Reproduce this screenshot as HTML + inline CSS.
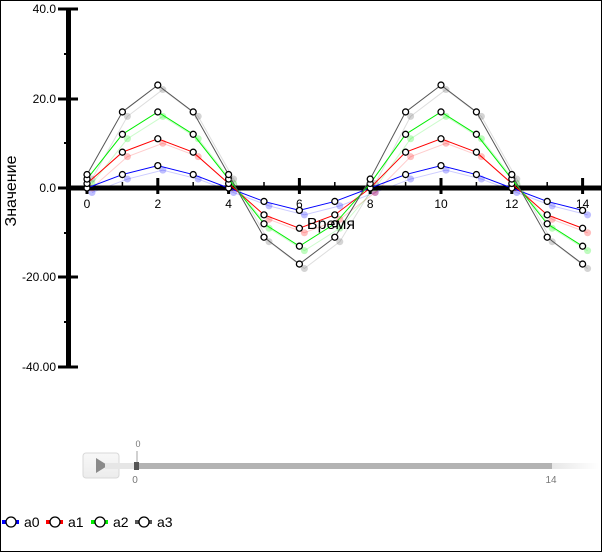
<!DOCTYPE html>
<html><head><meta charset="utf-8"><style>
body{margin:0;background:#fff;}
#w{position:relative;width:600px;height:550px;border:1px solid #000;overflow:hidden;font-family:"Liberation Sans",sans-serif;}
svg{position:absolute;left:0;top:0}
</style></head><body><div id="w">
<svg id="s" width="602" height="552" xmlns="http://www.w3.org/2000/svg" font-family="Liberation Sans, sans-serif">
<defs><linearGradient id="tr" x1="0" x2="1"><stop offset="0" stop-color="#e6e6e6"/><stop offset="0.9" stop-color="#e6e6e6"/><stop offset="1" stop-color="#fff"/></linearGradient>
<linearGradient id="bt" x1="0" y1="0" x2="0" y2="1"><stop offset="0" stop-color="#f8f8f8"/><stop offset="1" stop-color="#ececec"/></linearGradient></defs>
<g id="plot"></g>
<text x="15" y="190" font-size="16" text-anchor="middle" transform="rotate(-90 15 190)">Значение</text>
<text x="330" y="228" font-size="16" text-anchor="middle">Время</text>
<rect x="82" y="452" width="36" height="25" rx="3" fill="url(#bt)" stroke="#d8d8d8"/>
<polygon points="95,457 95,472 107,464.5" fill="#8a8a8a"/>
<rect x="104" y="462" width="494" height="6" fill="url(#tr)"/>
<rect x="133" y="462" width="418" height="6" fill="#b3b3b3"/>
<rect x="133" y="461" width="5" height="8" fill="#555"/>
<line x1="136" y1="450" x2="136" y2="461" stroke="#666" stroke-width="0.6"/>
<text x="137" y="446" font-size="9" fill="#777" text-anchor="middle">0</text>
<text x="134" y="482" font-size="10" fill="#777" text-anchor="middle">0</text>
<text x="550" y="482" font-size="10" fill="#777" text-anchor="middle">14</text>
<g id="leg"></g>
</svg>
</div>
<script>
var ns="http://www.w3.org/2000/svg",plot=document.getElementById("plot"),leg=document.getElementById("leg");
function el(p,t,a,tx){var e=document.createElementNS(ns,t);for(var k in a)e.setAttribute(k,a[k]);if(tx!=null)e.textContent=tx;p.appendChild(e);return e;}
function X(t){return 86+t*35.4;}function Y(v){return 187-v*4.475;}
var ser=[["#0000ff",5,0],["#ff0000",10,1],["#00ee00",15,2],["#555555",20,3]];
function val(s,t){return Math.trunc(s[2]+s[1]*Math.sin(Math.PI*t/4)+1e-9*Math.sign(Math.sin(Math.PI*t/4)));}
ser.forEach(function(s){var pts=[];for(var t=0;t<=14;t++){var v=val(s,t)-1;pts.push([X(t)+5,Y(v)]);}
el(plot,"polyline",{points:pts.map(p=>p.join(",")).join(" "),fill:"none",stroke:s[0],"stroke-opacity":0.2,"stroke-width":1});
pts.forEach(p=>el(plot,"circle",{cx:p[0],cy:p[1],r:3.5,fill:s[0],"fill-opacity":0.25}));});
el(plot,"rect",{x:65,y:8,width:5,height:358,fill:"#000"});
[8,98,187,276,366].forEach(function(y,i){el(plot,"rect",{x:57,y:y-1.5,width:20,height:3,fill:"#000"});
el(plot,"text",{x:55,y:y+4,"font-size":12,"text-anchor":"end",fill:"#000"},["40.0","20.0","0.0","-20.00","-40.00"][i]);});
[53,142,232,321].forEach(function(y){el(plot,"rect",{x:63,y:y-1,width:5,height:2,fill:"#000"});});
el(plot,"rect",{x:65,y:184.5,width:537,height:5,fill:"#000"});
for(var t=0;t<=14;t++){var x=X(t);if(t%2==0){el(plot,"rect",{x:x-1.5,y:177,width:3,height:16,fill:"#000"});el(plot,"text",{x:x,y:207,"font-size":12,"text-anchor":"middle"},""+t);}
else el(plot,"rect",{x:x-0.75,y:181,width:1.5,height:6,fill:"#000"});}
ser.forEach(function(s){var pts=[];for(var t=0;t<=14;t++){pts.push([X(t),Y(val(s,t))]);}
el(plot,"polyline",{points:pts.map(p=>p.join(",")).join(" "),fill:"none",stroke:s[0],"stroke-width":1});
pts.forEach(p=>el(plot,"circle",{cx:p[0],cy:p[1],r:3,fill:"#fff",stroke:"#000","stroke-width":1.3}));});
var lx=[0,44,89,133];
ser.forEach(function(s,i){var x=lx[i];el(leg,"rect",{x:x+1,y:519,width:17,height:4,fill:s[0]});
el(leg,"circle",{cx:x+10,cy:521,r:5,fill:"#fff",stroke:"#000","stroke-width":1.3});
el(leg,"text",{x:x+23,y:526,"font-size":14},"a"+i);});
</script>
</body></html>
